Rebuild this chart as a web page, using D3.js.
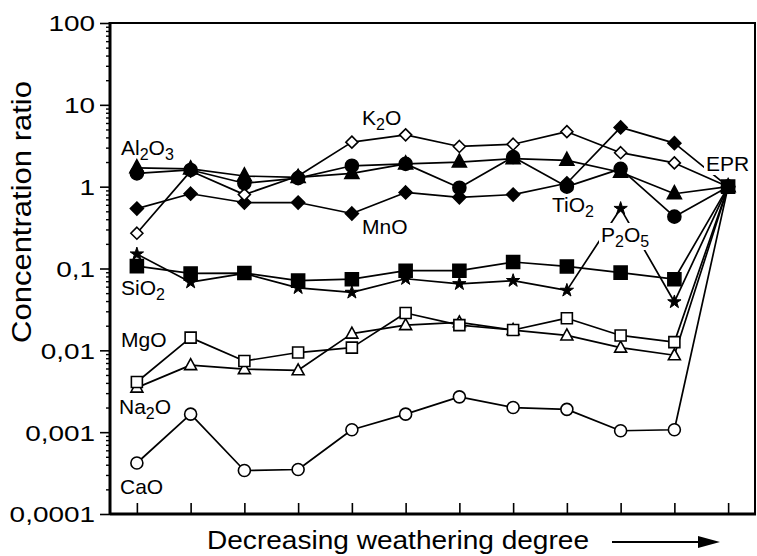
<!DOCTYPE html>
<html>
<head>
<meta charset="utf-8">
<script src="https://cdn.jsdelivr.net/npm/d3@7"></script>
<style>
  body { margin: 0; background: #fff; }
  svg { display: block; }
  text { font-family: "Liberation Sans", Arial, Helvetica, sans-serif; fill: #000; }
</style>
</head>
<body>
<svg id="chart" width="757" height="556"></svg>
<script>
// Samples ordered by decreasing weathering degree; the last one is the EPR reference
const samples = ["1", "2", "3", "4", "5", "6", "7", "8", "9", "10", "11", "EPR"];

// Concentration ratios (sample / EPR)
const al2o3 = [1.7, 1.65, 1.35, 1.3, 1.45, 1.9, 2.0, 2.2, 2.1, 1.5, 0.82, 1];
const tio2  = [1.45, 1.6, 1.1, 1.27, 1.8, 1.9, 0.97, 2.3, 1.0, 1.65, 0.43, 1];
const mno   = [0.54, 0.82, 0.64, 0.64, 0.47, 0.85, 0.74, 0.8, 1.1, 5.3, 3.4, 1];
const k2o   = [0.27, 1.55, 0.8, 1.35, 3.5, 4.3, 3.1, 3.3, 4.7, 2.6, 1.95, 1];
const sio2  = [0.107, 0.087, 0.088, 0.071, 0.074, 0.094, 0.094, 0.12, 0.106, 0.089, 0.074, 1];
const p2o5  = [0.15, 0.068, 0.087, 0.058, 0.051, 0.075, 0.065, 0.071, 0.054, 0.54, 0.039, 1];
const mgo   = [0.0041, 0.0143, 0.0074, 0.0094, 0.0108, 0.0286, 0.0203, 0.0177, 0.0247, 0.0152, 0.0126, 1];
const na2o  = [0.0035, 0.0066, 0.0059, 0.0057, 0.016, 0.0203, 0.022, 0.0177, 0.0152, 0.0108, 0.0087, 1];
const cao   = [0.00042, 0.00166, 0.00034, 0.00035, 0.00107, 0.00166, 0.0027, 0.002, 0.0019, 0.00104, 0.00107, 1];

// Axis ticks
const yTickValues = [0.0001, 0.001, 0.01, 0.1, 1, 10, 100];
const yTickLabels = ["0,0001", "0,001", "0,01", "0,1", "1", "10", "100"];

const series = [
  { name: "CaO",   values: cao,   marker: "circleOpen" },
  { name: "Na2O",  values: na2o,  marker: "triangleOpen" },
  { name: "MgO",   values: mgo,   marker: "squareOpen" },
  { name: "P2O5",  values: p2o5,  marker: "star" },
  { name: "SiO2",  values: sio2,  marker: "square" },
  { name: "MnO",   values: mno,   marker: "diamond" },
  { name: "K2O",   values: k2o,   marker: "diamondOpen" },
  { name: "TiO2",  values: tio2,  marker: "circle" },
  { name: "Al2O3", values: al2o3, marker: "triangle" }
];

const svg = d3.select("#chart");
const plotLeft = 110, plotRight = 755, plotTop = 23, plotBottom = 514;

const x = d3.scalePoint().domain(samples).range([plotLeft, plotRight]).padding(0.5);
const y = d3.scaleLog().domain([0.0001, 100]).range([plotBottom, plotTop]);

// Minor ticks 2..9 within each decade
const minorTicks = [];
for (let e = -4; e < 2; e++) for (let m = 2; m <= 9; m++) minorTicks.push(m * Math.pow(10, e));

const gMinor = svg.append("g").attr("transform", `translate(${plotLeft},0)`)
  .call(d3.axisLeft(y).tickValues(minorTicks).tickSize(4).tickFormat(""));
gMinor.select(".domain").remove();
gMinor.selectAll(".tick line").attr("stroke", "#000").attr("stroke-width", 1.4);

const gY = svg.append("g").attr("transform", `translate(${plotLeft},0)`)
  .call(d3.axisLeft(y).tickValues(yTickValues).tickSize(10).tickPadding(5)
    .tickFormat((d, i) => yTickLabels[i]));
gY.select(".domain").remove();
gY.selectAll(".tick line").attr("stroke", "#000").attr("stroke-width", 1.6);
// Tick labels use a wide, horizontally stretched face
gY.selectAll(".tick text")
  .attr("font-size", 22).attr("font-family", "Liberation Sans, Arial, sans-serif").attr("fill", "#000")
  .attr("x", 0).attr("dy", "0.36em")
  .attr("transform", "translate(-15,0) scale(1.27,1)");

const gX = svg.append("g").attr("transform", `translate(0,${plotBottom})`)
  .call(d3.axisBottom(x).tickSize(-11).tickFormat(""));
gX.select(".domain").remove();
gX.selectAll(".tick line").attr("stroke", "#000").attr("stroke-width", 1.6);

// Frame
svg.append("rect").attr("x", plotLeft).attr("y", plotTop)
  .attr("width", plotRight - plotLeft).attr("height", plotBottom - plotTop)
  .attr("fill", "none").attr("stroke", "#000").attr("stroke-width", 2);
svg.append("line").attr("x1", plotLeft).attr("x2", plotLeft).attr("y1", plotTop - 1).attr("y2", plotBottom + 1)
  .attr("stroke", "#000").attr("stroke-width", 3);
svg.append("line").attr("x1", plotLeft).attr("x2", plotRight + 1).attr("y1", plotBottom).attr("y2", plotBottom)
  .attr("stroke", "#000").attr("stroke-width", 3);

// Series lines
const line = d3.line().x((d, i) => x(samples[i])).y(d => y(d));
const gLines = svg.append("g");
series.forEach(s => {
  gLines.append("path").datum(s.values).attr("d", line)
    .attr("fill", "none").attr("stroke", "#000").attr("stroke-width", 1.7)
    .attr("stroke-linejoin", "round");
});

// Oxide labels with subscripted digits
const gLabels = svg.append("g");
function addLabel(px, py, str, masked) {
  const t = gLabels.append("text").attr("x", px).attr("y", py).attr("font-size", 21);
  const parts = str.split(/(\d)/).filter(p => p.length);
  let sub = false;
  parts.forEach(p => {
    const isDigit = /\d/.test(p);
    const ts = t.append("tspan").text(p);
    if (isDigit && !sub) { ts.attr("dy", 5).attr("font-size", 16); sub = true; }
    else if (isDigit) { ts.attr("font-size", 16); }
    else if (sub) { ts.attr("dy", -5); sub = false; }
  });
  if (masked) {
    const b = t.node().getBBox();
    gLabels.insert("rect", () => t.node())
      .attr("x", b.x - 2).attr("y", b.y).attr("width", b.width + 4).attr("height", b.height)
      .attr("fill", "#fff");
  }
}
addLabel(121, 155, "Al2O3", false);
addLabel(362, 125, "K2O", false);
addLabel(362, 234, "MnO", false);
addLabel(121, 295, "SiO2", false);
addLabel(121, 347, "MgO", false);
addLabel(119, 414, "Na2O", false);
addLabel(120, 494, "CaO", false);
addLabel(552, 212, "TiO2", true);
addLabel(601, 242, "P2O5", true);
addLabel(706, 171, "EPR", true);

// Markers
const gMarks = svg.append("g");
function drawMarker(g, type, cx, cy) {
  const k = g.append("path").attr("transform", `translate(${cx},${cy})`)
    .attr("stroke", "#000").attr("stroke-width", 1.6);
  let d, filled = true;
  switch (type) {
    case "circle":       d = d3.symbol(d3.symbolCircle, Math.PI * 6.5 * 6.5)(); break;
    case "circleOpen":   d = d3.symbol(d3.symbolCircle, Math.PI * 6 * 6)(); filled = false; break;
    case "triangle":     d = "M0,-8L7,5L-7,5Z"; break;
    case "triangleOpen": d = "M0,-6.5L6,4.5L-6,4.5Z"; filled = false; break;
    case "square":       d = "M-6.5,-6.5H6.5V6.5H-6.5Z"; break;
    case "squareOpen":   d = "M-5.5,-5.5H5.5V5.5H-5.5Z"; filled = false; break;
    case "diamond":      d = "M0,-6.5L6.5,0L0,6.5L-6.5,0Z"; break;
    case "diamondOpen":  d = "M0,-6L6,0L0,6L-6,0Z"; filled = false; break;
    case "star":         d = d3.symbol(d3.symbolStar, 55)(); break;
  }
  k.attr("d", d).attr("fill", filled ? "#000" : "#fff");
  if (type === "star") k.attr("stroke-width", 1);
}
series.forEach(s => {
  s.values.forEach((v, i) => drawMarker(gMarks, s.marker, x(samples[i]), y(v)));
});

// Axis titles
svg.append("text")
  .attr("transform", `translate(31,212) rotate(-90)`)
  .attr("text-anchor", "middle").attr("font-size", 27)
  .attr("textLength", 262).attr("lengthAdjust", "spacingAndGlyphs")
  .text("Concentration ratio");

svg.append("text").attr("x", 207).attr("y", 549).attr("font-size", 26)
  .attr("textLength", 382).attr("lengthAdjust", "spacingAndGlyphs")
  .text("Decreasing weathering degree");

// Direction arrow
svg.append("line").attr("x1", 612).attr("x2", 702).attr("y1", 542).attr("y2", 542)
  .attr("stroke", "#000").attr("stroke-width", 2);
svg.append("path").attr("d", "M720,542L698,536L698,548Z").attr("fill", "#000");
</script>
</body>
</html>
